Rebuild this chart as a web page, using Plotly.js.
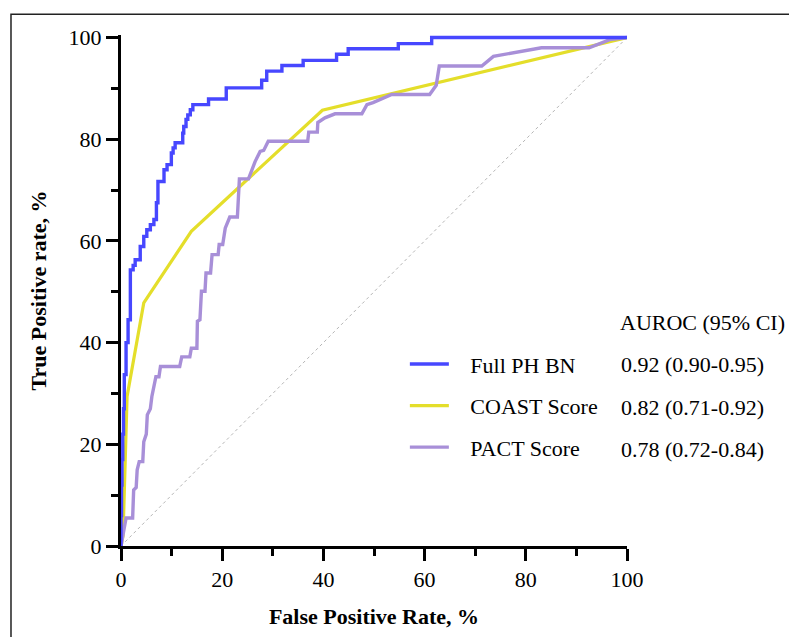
<!DOCTYPE html>
<html>
<head>
<meta charset="utf-8">
<script src="https://cdn.plot.ly/plotly-3.0.1.min.js"></script>
<style>html,body{margin:0;padding:0;background:#fff;}#chart{width:789px;height:637px;}</style>
</head>
<body>
<div id="chart"></div>
<script>
// Full PH BN (step curve, 'hv' corners)
const bnFPR = [0,0,0.1,0.2,0.35,0.5,0.65,1.0,1.4,1.85,2.4,2.8,3.8,4.5,5.1,5.8,6.5,7.0,7.3,8.5,9.1,9.95,10.3,10.7,12.2,12.4,12.85,13.2,13.7,14.2,17.3,20.8,27.8,28.8,31.8,36.0,42.6,44.9,54.8,61.4,100];
const bnTPR = [0,6,12,17,22,27,33.7,40,44.5,54.3,55.2,56.3,58.9,60.9,62.2,63.2,64.2,67.5,71.7,74,75,77.3,78.3,79.3,81.2,82.5,83.9,84.8,85.8,86.8,87.9,90.1,91.6,93.4,94.5,95.5,96.7,97.8,98.8,100,100];
// COAST Score
const coastFPR = [0,0.4,1.2,4.5,13.9,39.8,100];
const coastTPR = [0,2,29.4,47.8,61.9,85.7,100];
// PACT Score
const pactFPR = [0,1.0,2.3,2.5,3.0,3.2,3.6,4.3,4.5,5.0,5.2,5.8,6.1,6.9,7.5,7.8,11.6,12.0,13.6,13.9,15.0,15.1,15.6,15.9,16.6,16.8,17.7,18.0,19.2,19.4,20.1,20.6,21.5,23.0,23.4,25.2,26.5,27.5,28.2,29.1,36.9,37.1,38.8,38.9,40.3,42.3,47.6,48.6,49.8,53.5,61.0,62.3,62.9,71.3,73.6,83.1,92.5,96.6,100];
const pactTPR = [0,5.5,5.5,11,11.5,15,16.6,16.6,20.5,22,25.8,27,29.4,33.3,33.3,35.3,35.3,37.2,37.2,38.9,38.9,44.2,44.5,50.1,50.1,53.7,53.7,57.3,57.3,59.3,59.3,62.5,64.7,64.7,72.2,72.2,75.6,77.6,77.8,79.6,79.6,81.4,81.4,83.3,84.2,85.0,85.0,86.8,87.2,88.8,88.8,90.6,94.4,94.4,96.3,98.0,98.0,99.6,100];
// Reference line
const refX = [0,100];
const refY = [0,100];
// Legend / labels
const seriesNames = ["Full PH BN","COAST Score","PACT Score"];
const aurocText = ["0.92 (0.90-0.95)","0.82 (0.71-0.92)","0.78 (0.72-0.84)"];
const aurocHeader = "AUROC (95% CI)";
const ticks = [0,20,40,60,80,100];

const FONT = "Liberation Serif, Times New Roman, serif";
const pad = "\u00a0\u00a0\u00a0";
const traces = [
  {x: refX, y: refY, mode:'lines', line:{color:'#b5b5b5', width:1, dash:'dot'}, showlegend:false, hoverinfo:'skip'},
  {x: coastFPR, y: coastTPR, mode:'lines', name: pad + seriesNames[1], legendgroup:'b', legendrank:2, line:{color:'#e4de2a', width:3.2}},
  {x: pactFPR, y: pactTPR, mode:'lines', name: pad + seriesNames[2], legendgroup:'c', legendrank:3, line:{color:'#a88fd8', width:3.4}},
  {x: bnFPR, y: bnTPR, mode:'lines', name: pad + seriesNames[0], legendgroup:'a', legendrank:1, line:{color:'#4747ff', width:3.4, shape:'hv'}}
];

const rowY = [0.356, 0.272, 0.189];
const annotations = [
  {xref:'paper', yref:'paper', x:0.982, y:0.438, xanchor:'left', yanchor:'middle', text: aurocHeader, showarrow:false, font:{family:FONT, size:22, color:'#000'}}
];
aurocText.forEach((t,i)=>annotations.push({xref:'paper', yref:'paper', x:0.985, y:rowY[i], xanchor:'left', yanchor:'middle', text:t, showarrow:false, font:{family:FONT, size:22, color:'#000'}}));

const axisCommon = {
  tickvals: ticks, ticktext: ticks.map(String), showgrid:false, zeroline:false,
  showline:true, linecolor:'#000', linewidth:3, ticks:'outside', ticklen:12, tickwidth:3, tickcolor:'#000',
  minor:{dtick:10, ticks:'outside', ticklen:7, tickwidth:3, tickcolor:'#000', showgrid:false},
  tickfont:{family:FONT, size:22, color:'#000'}, fixedrange:true
};

// y range slightly above 100 so the top of the curve is not clipped
const yTop = 100.5;
const plotH = 508 * yTop / 100;
const layout = {
  width:789, height:637,
  margin:{l:121, r:162, t:637 - 91 - plotH, b:91},
  paper_bgcolor:'#fff', plot_bgcolor:'#fff',
  font:{family:FONT, size:22, color:'#000'},
  xaxis: Object.assign({}, axisCommon, {range:[0,100], title:{text:'<b>False Positive Rate, %</b>', font:{family:FONT, size:22, color:'#000'}, standoff:18}, automargin:false}),
  yaxis: Object.assign({}, axisCommon, {range:[0,yTop], title:{text:'<b>True Positive rate, %</b>', font:{family:FONT, size:22, color:'#000'}, standoff:16}, automargin:false}),
  showlegend:true,
  legend:{x:0.561, y:0.397, xanchor:'left', yanchor:'top', bgcolor:'rgba(0,0,0,0)', borderwidth:0,
          font:{family:FONT, size:22, color:'#000'}, traceorder:'grouped', tracegroupgap:10, itemwidth:39},
  annotations: annotations,
  shapes:[{type:'rect', xref:'paper', yref:'paper', x0:-0.2174, x1:1.5, y0:-0.4, y1:1.0407, line:{color:'#222', width:1.5}, fillcolor:'rgba(0,0,0,0)', layer:'below'}]
};

Plotly.newPlot('chart', traces, layout, {staticPlot:true, displayModeBar:false});
</script>
</body>
</html>
